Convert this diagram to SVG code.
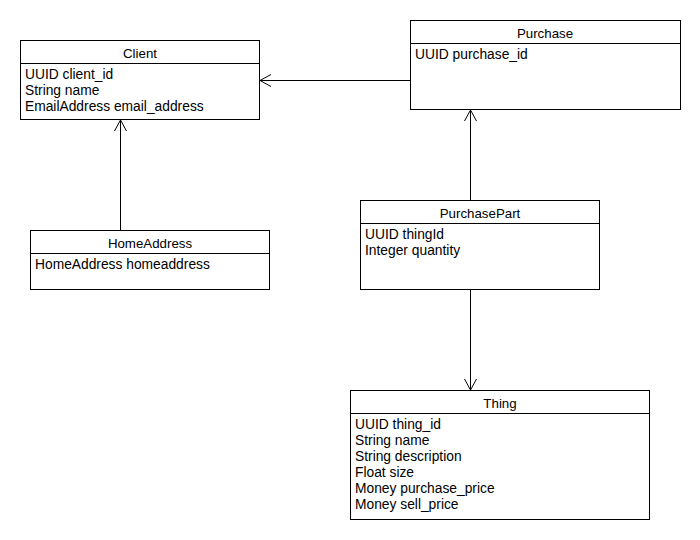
<svg xmlns="http://www.w3.org/2000/svg" width="700" height="540" viewBox="0 0 700 540">
<style>
.box{fill:#fff;stroke:#000;stroke-width:1}
.sep{stroke:#000;stroke-width:1}
.t{font-family:"Liberation Sans",Arial,sans-serif;font-size:13.8px;fill:#000}
.c{text-anchor:middle;font-size:13.3px}
.ln{stroke:#000;stroke-width:1;fill:none}
</style>
<defs>
<marker id="open" markerUnits="userSpaceOnUse" markerWidth="14" markerHeight="16" refX="12" refY="7" orient="auto" viewBox="0 0 14 14">
<path d="M1,1 L12,7 L1,13" fill="none" stroke="#000" stroke-width="1"/>
</marker>
</defs>
<rect width="700" height="540" fill="#fff"/>
<g id="connectors">
<line class="ln" x1="410" y1="80.5" x2="260" y2="80.5" marker-end="url(#open)"/>
<line class="ln" x1="120.5" y1="230" x2="120.5" y2="120" marker-end="url(#open)"/>
<line class="ln" x1="470.5" y1="200" x2="470.5" y2="110" marker-end="url(#open)"/>
<line class="ln" x1="470.5" y1="289" x2="470.5" y2="390" marker-end="url(#open)"/>
</g>
<g id="Client">
<rect class="box" x="20.5" y="40.5" width="239" height="79"/>
<line class="sep" x1="20.5" y1="63.5" x2="259.5" y2="63.5"/>
<text class="t c" x="140" y="57.5">Client</text>
<text class="t" x="25" y="79">UUID client_id</text>
<text class="t" x="25" y="95">String name</text>
<text class="t" x="25" y="111">EmailAddress email_address</text>
</g>
<g id="Purchase">
<rect class="box" x="410.5" y="20.5" width="270" height="89"/>
<line class="sep" x1="410.5" y1="43.5" x2="680.5" y2="43.5"/>
<text class="t c" x="545" y="37.5">Purchase</text>
<text class="t" x="415" y="59">UUID purchase_id</text>
</g>
<g id="HomeAddress">
<rect class="box" x="30.5" y="230.5" width="239" height="59"/>
<line class="sep" x1="30.5" y1="253.5" x2="269.5" y2="253.5"/>
<text class="t c" x="150" y="247.5">HomeAddress</text>
<text class="t" x="35" y="269">HomeAddress homeaddress</text>
</g>
<g id="PurchasePart">
<rect class="box" x="360.5" y="200.5" width="239" height="89"/>
<line class="sep" x1="360.5" y1="223.5" x2="599.5" y2="223.5"/>
<text class="t c" x="480" y="217.5">PurchasePart</text>
<text class="t" x="365" y="239">UUID thingId</text>
<text class="t" x="365" y="255">Integer quantity</text>
</g>
<g id="Thing">
<rect class="box" x="350.5" y="390.5" width="299" height="129"/>
<line class="sep" x1="350.5" y1="413.5" x2="649.5" y2="413.5"/>
<text class="t c" x="500" y="407.5">Thing</text>
<text class="t" x="355" y="429">UUID thing_id</text>
<text class="t" x="355" y="445">String name</text>
<text class="t" x="355" y="461">String description</text>
<text class="t" x="355" y="477">Float size</text>
<text class="t" x="355" y="493">Money purchase_price</text>
<text class="t" x="355" y="509">Money sell_price</text>
</g>
</svg>
